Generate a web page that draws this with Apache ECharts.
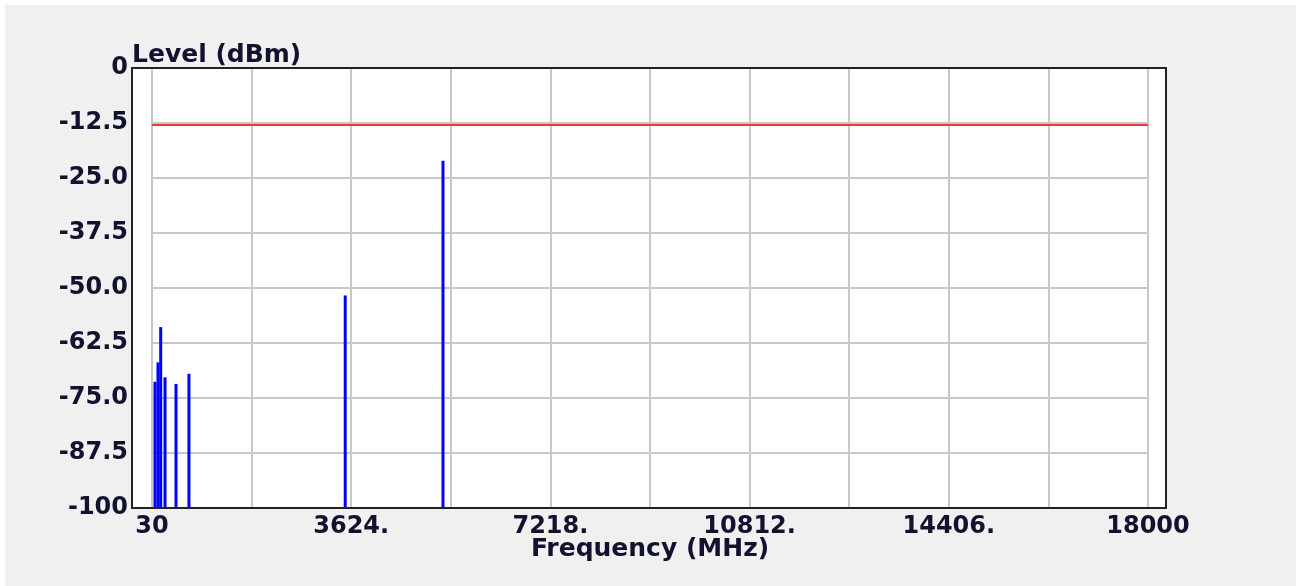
<!DOCTYPE html>
<html>
<head>
<meta charset="utf-8">
<title>Level vs Frequency</title>
<script src="https://cdn.jsdelivr.net/npm/echarts@6/dist/echarts.min.js"></script>
<style>
  html, body { margin: 0; padding: 0; background: #fff; }
  #chart { width: 1302px; height: 586px; }
</style>
</head>
<body>
<div id="chart"></div>
<script>
// emission peaks (MHz / dBm)
var freqs  = [84, 138, 187, 265, 463, 697, 3516, 5280];
var levels = [-71.3, -66.9, -58.9, -70.3, -71.8, -69.5, -51.7, -21.1];
var limitLevel = -13;

// axis ticks
var xGridTicks  = [30, 1827, 3624, 5421, 7218, 9015, 10812, 12609, 14406, 16203, 18000];
var xLabelTicks = [30, 3624, 7218, 10812, 14406, 18000];
var xLabels     = ['30', '3624.', '7218.', '10812.', '14406.', '18000'];
var yTicks  = [0, -12.5, -25, -37.5, -50, -62.5, -75, -87.5, -100];
var yLabels = ['0', '-12.5', '-25.0', '-37.5', '-50.0', '-62.5', '-75.0', '-87.5', '-100'];

var yMin = -100, yMax = 0;
var font = 'DejaVu Sans';
var textColor = '#121230';

var peaks = freqs.map(function (f, i) { return [f, levels[i]]; });

var myChart = echarts.init(document.getElementById('chart'));

var option = {
  backgroundColor: '#fff',
  animation: false,
  title: {
    text: 'Level (dBm)',
    left: 132,
    top: 43,
    padding: 0,
    textStyle: { fontFamily: font, fontWeight: 'bold', fontSize: 25, color: textColor }
  },
  graphic: [
    // grey panel
    { type: 'rect', z: -10, shape: { x: 5, y: 5, width: 1291, height: 581 }, style: { fill: '#f0f0f0' } },
    // white plot background
    { type: 'rect', z: -5, shape: { x: 132, y: 68, width: 1034, height: 440 }, style: { fill: '#fff' } },
    // frame
    { type: 'rect', z: 100, shape: { x: 132, y: 68, width: 1034, height: 440 }, style: { fill: 'none', stroke: '#222', lineWidth: 2 } }
  ],
  grid: { left: 152, right: 154, top: 68, bottom: 78 },
  xAxis: {
    type: 'value',
    min: 30,
    max: 18000,
    name: 'Frequency (MHz)',
    nameLocation: 'middle',
    nameGap: 29,
    nameMoveOverlap: false,
    nameTextStyle: { fontFamily: font, fontWeight: 'bold', fontSize: 25, color: textColor },
    axisLine: { show: false },
    axisTick: { show: false, customValues: xGridTicks },
    axisLabel: {
      customValues: xLabelTicks,
      margin: 7,
      fontFamily: font,
      fontWeight: 'bold',
      fontSize: 24,
      color: textColor,
      formatter: function (v) {
        var i = xLabelTicks.indexOf(v);
        return i >= 0 ? xLabels[i] : '';
      }
    },
    splitLine: { show: true, lineStyle: { color: '#c8c8c8', width: 2 } }
  },
  yAxis: {
    type: 'value',
    min: yMin,
    max: yMax,
    interval: 12.5,
    axisLine: { show: false },
    axisTick: { show: false },
    axisLabel: {
      margin: 24,
      fontFamily: font,
      fontWeight: 'bold',
      fontSize: 24,
      color: textColor,
      formatter: function (v) {
        var i = yTicks.indexOf(v);
        return i >= 0 ? yLabels[i] : '';
      }
    },
    splitLine: { show: true, lineStyle: { color: '#c8c8c8', width: 2 } }
  },
  series: [
    {
      type: 'custom',
      data: peaks,
      z: 5,
      renderItem: function (params, api) {
        var p0 = api.coord([api.value(0), yMin]);
        var p1 = api.coord([api.value(0), api.value(1)]);
        return {
          type: 'line',
          shape: { x1: p0[0], y1: p0[1], x2: p1[0], y2: p1[1] },
          style: { stroke: '#0000ff', lineWidth: 3 }
        };
      },
      markLine: {
        silent: true,
        symbol: 'none',
        label: { show: false },
        lineStyle: { color: '#e83a3a', width: 2, type: 'solid' },
        data: [{ yAxis: limitLevel }]
      }
    }
  ]
};

myChart.setOption(option);
</script>
</body>
</html>
